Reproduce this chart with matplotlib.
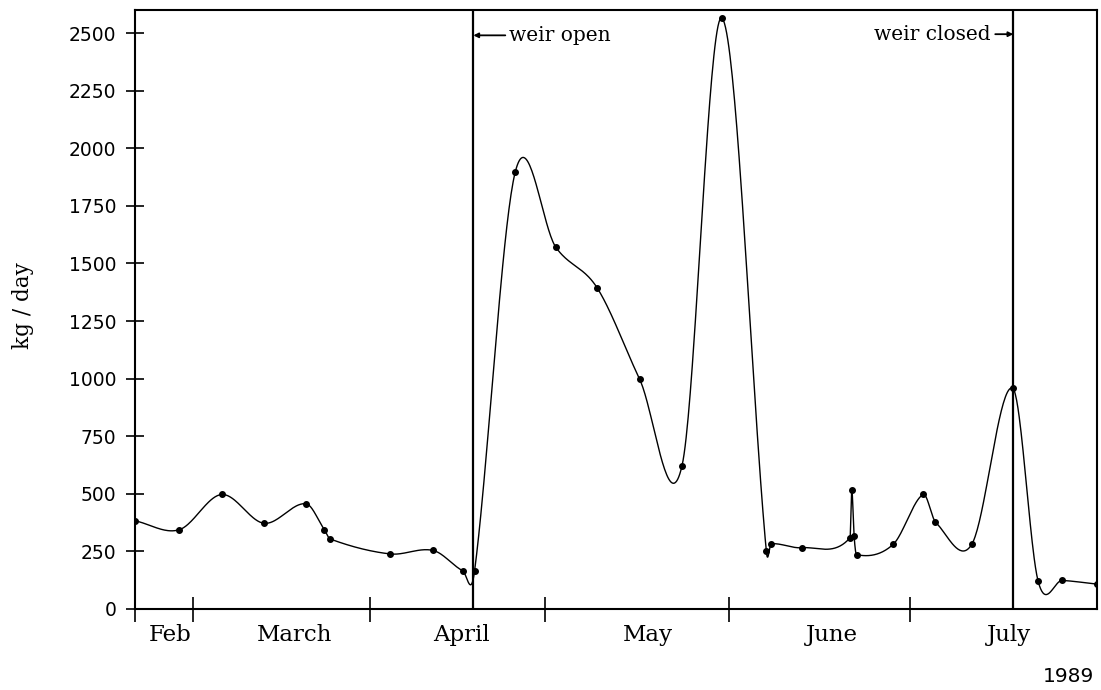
import numpy as np
import matplotlib
matplotlib.use("Agg")
import matplotlib.pyplot as plt

# sampling days (day of year) and load in kg/day
days = [48.8, 56.3, 63.5, 70.7, 77.8, 80.9, 81.9, 92.1, 99.4, 104.4, 106.4,
        113.3, 120.2, 127.2, 134.4, 141.6, 148.4, 155.9, 156.7, 161.9,
        170.1, 170.4, 170.8, 171.2, 177.4, 182.5, 184.6, 190.8, 197.7,
        202.0, 206.1, 212.0]
load = [383, 344, 497, 372, 457, 345, 304, 239, 254, 166, 164,
        1896, 1570, 1394, 998, 622, 2565, 251, 283, 266,
        309, 516, 315, 236, 280, 497, 378, 283, 958,
        122, 124, 108]

month_bounds = [48.8, 58.7, 88.7, 118.4, 149.6, 180.3]
month_names = ['Feb', 'March', 'April', 'May', 'June', 'July']
month_label_pos = [54.7, 75.8, 104.1, 135.9, 167.1, 197.0]
yticks = np.arange(0, 2501, 250)

weir_open = 106.2
weir_closed = 197.8


def smooth(x, y, n=40):
    # cardinal (catmull-rom style) hermite spline through the points
    x = np.asarray(x, float)
    y = np.asarray(y, float)
    m = np.zeros_like(y)
    m[1:-1] = (y[2:] - y[:-2]) / (x[2:] - x[:-2])
    m[0] = (y[1] - y[0]) / (x[1] - x[0])
    m[-1] = (y[-1] - y[-2]) / (x[-1] - x[-2])
    xs, ys = [], []
    for i in range(len(x) - 1):
        h = x[i + 1] - x[i]
        t = np.linspace(0, 1, n)
        h00 = 2 * t**3 - 3 * t**2 + 1
        h10 = t**3 - 2 * t**2 + t
        h01 = -2 * t**3 + 3 * t**2
        h11 = t**3 - t**2
        xs.append(x[i] + h * t)
        ys.append(h00 * y[i] + h10 * h * m[i] + h01 * y[i + 1] + h11 * h * m[i + 1])
    return np.concatenate(xs), np.concatenate(ys)


fig = plt.figure(figsize=(11.01, 6.90), dpi=100)
ax = fig.add_axes([135 / 1101, 1 - 609 / 690, (1097 - 135) / 1101, (609 - 10) / 690])

sx, sy = smooth(days, load)
ax.plot(sx, sy, color='black', lw=1.0, zorder=3)
ax.plot(days, load, 'o', color='black', ms=4, zorder=4)

ax.axvline(weir_open, color='black', lw=1.6, zorder=2)
ax.axvline(weir_closed, color='black', lw=1.6, zorder=2)

arrow = dict(arrowstyle='-|>', lw=1.3, color='black', mutation_scale=7,
             shrinkA=1, shrinkB=0)
ax.annotate('weir open', xy=(weir_open, 2490), xytext=(26, 0),
            textcoords='offset points', ha='left', va='center',
            fontsize=14.5, family='DejaVu Serif', arrowprops=arrow)
ax.annotate('weir closed', xy=(weir_closed, 2495), xytext=(-16, 0),
            textcoords='offset points', ha='right', va='center',
            fontsize=14.5, family='DejaVu Serif', arrowprops=arrow)

ax.set_xlim(48.8, 212.0)
ax.set_ylim(0, 2600)

for s in ax.spines.values():
    s.set_linewidth(1.5)

ax.set_yticks(yticks)
ax.set_yticklabels([str(v) for v in yticks], fontsize=13.5, family='DejaVu Sans')
ax.tick_params(axis='y', direction='inout', length=13, width=1.2, pad=7)

ax.set_xticks(month_bounds)
ax.set_xticklabels([])
ax.set_xticks(month_label_pos, minor=True)
ax.set_xticklabels(month_names, minor=True, fontsize=16.5, family='DejaVu Serif')
ax.tick_params(axis='x', which='major', direction='inout', length=18, width=1.2)
ax.tick_params(axis='x', which='minor', length=0, pad=11)

fig.text(23 / 1101, 1 - 306 / 690, 'kg / day', rotation=90, ha='center',
         va='center', fontsize=15.5, family='DejaVu Serif')
fig.text(1094 / 1101, 1 - 676 / 690, '1989', ha='right', va='center',
         fontsize=14.5, family='DejaVu Sans')

fig.savefig('out.png', dpi=100)
